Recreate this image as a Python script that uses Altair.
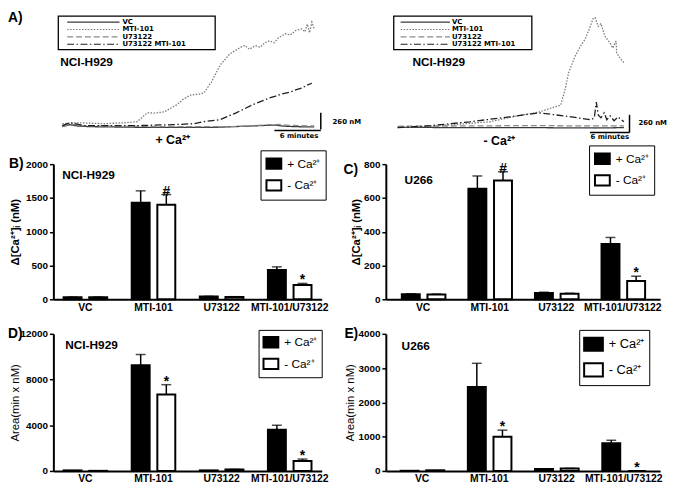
import altair as alt
import pandas as pd

FONT = "Liberation Sans"

# ---------------- Panel A: calcium traces ----------------
series = ["VC", "MTI-101", "U73122", "U73122 MTI-101"]
line_colors = ["#3a3a3a", "#7a7a7a", "#8a8a8a", "#1e1e1e"]
line_dashes = [[1, 0], [1.5, 1.5], [6, 3], [7, 2.5, 1.5, 2.5]]

# + Ca2+ (time in minutes, delta [Ca2+] in nM)
p_vc_t = [0, 1.0, 2.0, 3.5, 10, 20, 26.5, 27.5, 28.5, 30, 32.6]
p_vc_v = [0, 30, 10, 0, -10, -10, 20, 25, 10, 0, -5]
p_mti_t = [0, 2, 5.5, 8, 9.7, 11.0, 12.0, 13.2, 14.8, 15.6, 16.6, 17.4, 18.3, 19.3, 20.4,
           21.7, 23.0, 23.6, 24.2, 25.0, 25.6, 26.2, 26.8, 27.4, 28.0, 28.9, 29.5, 30.2,
           31.0, 31.4, 31.7, 32.0, 32.3, 32.6]
p_mti_v = [46, 60, 46, 60, 77, 214, 210, 230, 337, 420, 490, 500, 520, 690, 950,
           1130, 1225, 1260, 1200, 1255, 1230, 1300, 1330, 1300, 1380, 1440, 1420, 1490,
           1515, 1470, 1590, 1455, 1620, 1515]
p_u7_t = [0, 1.2, 2.5, 8, 15, 22, 27, 28, 29.5, 32.6]
p_u7_v = [10, 40, 15, 5, 0, 0, 30, 35, 20, 10]
p_u7mti_t = [0, 1.0, 2.9, 9.3, 14.4, 17.0, 18.3, 20.4, 22.5, 24.6, 26.8, 27.5, 28.2, 28.9,
             29.6, 30.3, 31.0, 31.6, 32.3]
p_u7mti_v = [15, 61, 15, 15, 31, 46, 77, 107, 214, 337, 444, 470, 500, 520,
             540, 575, 597, 640, 673]

# - Ca2+
m_vc_t = [0, 10, 20, 30, 34.4]
m_vc_v = [5, 0, 0, -5, 0]
m_mti_t = [0, 5, 10, 14.0, 18.9, 21.5, 24.8, 25.5, 26.0, 27.0, 27.8, 28.5, 29.3, 29.7, 30.0,
           30.5, 30.9, 31.5, 32.3, 32.7, 33.2, 33.3, 33.8, 34.4]
m_mti_v = [0, 20, 55, 86, 187, 230, 331, 576, 806, 1051, 1195, 1296, 1483, 1598, 1612,
           1483, 1526, 1339, 1238, 1166, 1267, 1094, 1022, 950]
m_u7_t = [0, 10, 20, 30, 34.4]
m_u7_v = [20, 25, 30, 25, 25]
m_u7mti_t = [0, 5, 11, 17, 21.5, 25.2, 29.4, 29.9, 30.2, 30.5, 30.9, 31.4, 31.8, 32.3, 32.9,
             33.5, 34.4]
m_u7mti_v = [0, 29, 86, 158, 216, 173, 115, 144, 374, 187, 144, 216, 115, 173, 101,
             158, 86]

# ---------------- Bar panels ----------------
cats = ["VC", "MTI-101", "U73122", "MTI-101/U73122"]
conds = ["+ Ca²⁺", "-  Ca²⁺"]

b_plus = [30, 1430, 40, 435]
b_plus_err = [4, 175, 4, 45]
b_minus = [30, 1400, 35, 210]
b_minus_err = [4, 150, 4, 25]
b_sig = ["", "#", "", "*"]

c_plus = [30, 655, 38, 328]
c_plus_err = [3, 75, 4, 38]
c_minus = [28, 703, 33, 108]
c_minus_err = [3, 52, 3, 28]
c_sig = ["", "#", "", "*"]

d_plus = [50, 9250, 50, 3600]
d_plus_err = [0, 940, 0, 400]
d_minus = [10, 6700, 120, 870]
d_minus_err = [0, 850, 20, 170]
d_sig = ["", "*", "", "*"]

e_plus = [5, 2450, 60, 810]
e_plus_err = [0, 690, 5, 85]
e_minus = [20, 1000, 70, 0]
e_minus_err = [0, 190, 5, 0]
e_sig = ["", "*", "", "*"]


def trace_df(ts, vs):
    rows = []
    for s, t, v in zip(series, ts, vs):
        for ti, vi in zip(t, v):
            rows.append({"series": s, "t": ti, "v": vi})
    return pd.DataFrame(rows)


def trace_panel(df, width, height, xdom, ydom, bar_t, bar_v, bar_h, cond_text, cond_xy,
                cell_xy, leg_box, leg_x, leg_rows, leg_font, min_xy, nm_xy, panel_label=None):
    base = alt.Chart(df)
    lines = base.mark_line(strokeWidth=1.3).encode(
        x=alt.X("t:Q", scale=alt.Scale(domain=xdom, nice=False, zero=False), axis=None),
        y=alt.Y("v:Q", scale=alt.Scale(domain=ydom, nice=False, zero=False), axis=None),
        color=alt.Color("series:N", scale=alt.Scale(domain=series, range=line_colors), legend=None),
        strokeDash=alt.StrokeDash("series:N", scale=alt.Scale(domain=series, range=line_dashes), legend=None),
        order=alt.Order("t:Q"),
    )
    sb = pd.DataFrame({"t1": [bar_t[1], bar_t[0]], "t2": [bar_t[1], bar_t[1]],
                       "v1": [bar_v[0], bar_h], "v2": [bar_v[1], bar_h]})
    scalebar = alt.Chart(sb).mark_rule(color="black", strokeWidth=1.5).encode(
        x=alt.X("t1:Q", axis=None), x2="t2:Q", y=alt.Y("v1:Q", axis=None), y2="v2:Q")
    layers = [lines, scalebar]
    one = pd.DataFrame({"k": [0]})
    # legend box
    layers.append(alt.Chart(one).mark_rect(fillOpacity=0, stroke="black", strokeWidth=1.3).encode(
        x=alt.value(leg_box[0]), x2=alt.value(leg_box[1]), y=alt.value(leg_box[2]), y2=alt.value(leg_box[3])))
    for i, s in enumerate(series):
        layers.append(alt.Chart(one).mark_rule(color=line_colors[i], strokeDash=line_dashes[i],
                                               strokeWidth=1.2).encode(
            x=alt.value(leg_x[0]), x2=alt.value(leg_x[1]), y=alt.value(leg_rows[i])))
        layers.append(alt.Chart(one).mark_text(text=s, font="DejaVu Sans", fontWeight="bold",
                                               fontSize=leg_font, align="left", baseline="middle").encode(
            x=alt.value(leg_x[2]), y=alt.value(leg_rows[i])))
    layers.append(alt.Chart(one).mark_text(text="NCI-H929", font=FONT, fontWeight="bold", fontSize=12,
                                           align="left", baseline="middle").encode(
        x=alt.value(cell_xy[0]), y=alt.value(cell_xy[1])))
    layers.append(alt.Chart(one).mark_text(text=cond_text, font=FONT, fontWeight="bold", fontSize=12.5,
                                           align="center", baseline="middle").encode(
        x=alt.value(cond_xy[0]), y=alt.value(cond_xy[1])))
    layers.append(alt.Chart(one).mark_text(text="6 minutes", font="DejaVu Sans", fontWeight="bold",
                                           fontSize=7, align="center", baseline="middle").encode(
        x=alt.value(min_xy[0]), y=alt.value(min_xy[1])))
    layers.append(alt.Chart(one).mark_text(text="260 nM", font="DejaVu Sans", fontWeight="bold",
                                           fontSize=7, align="left", baseline="middle").encode(
        x=alt.value(nm_xy[0]), y=alt.value(nm_xy[1])))
    if panel_label:
        layers.append(alt.Chart(one).mark_text(text=panel_label, font=FONT, fontWeight="bold", fontSize=14,
                                               align="left", baseline="alphabetic").encode(
            x=alt.value(-46), y=alt.value(10)))
    return alt.layer(*layers).properties(width=width, height=height)


def bar_panel(plus, plus_err, minus, minus_err, sig, ymax, ystep, ytitle, ytitle_bold, title_x,
              cell, cell_xy, label, label_xy, width, height, po, leg_xy, leg_size, leg_font, leg_pad):
    rows = []
    for i, c in enumerate(cats):
        rows.append({"cat": c, "cond": conds[0], "val": plus[i], "err": plus_err[i],
                     "top": plus[i] + plus_err[i], "sig": ""})
        rows.append({"cat": c, "cond": conds[1], "val": minus[i], "err": minus_err[i],
                     "top": minus[i] + minus_err[i], "sig": sig[i]})
    df = pd.DataFrame(rows)
    x = alt.X("cat:N", sort=cats, scale=alt.Scale(domain=cats, paddingInner=0.36, paddingOuter=po),
              axis=alt.Axis(title=None, labelAngle=0, ticks=False, domainWidth=2, domainColor="black",
                            labelFont=FONT, labelFontWeight="bold", labelFontSize=10.5,
                            labelColor="black", labelPadding=3))
    xo = alt.XOffset("cond:N", sort=conds, scale=alt.Scale(domain=conds, paddingInner=0.3, paddingOuter=0))
    yax = alt.Axis(title=ytitle, values=list(range(0, ymax + 1, ystep)), format="d", labelOverlap=False,
                   grid=False, tickSize=4,
                   tickWidth=1.5, tickColor="black", domainWidth=2, domainColor="black",
                   labelFont=FONT, labelFontWeight="bold", labelFontSize=10, labelColor="black",
                   labelPadding=2, titleFont=FONT, titleFontSize=11.5,
                   titleFontWeight="bold" if ytitle_bold else "normal", titleColor="black",
                   titleX=title_x, titleY=height / 2, titleBaseline="middle", titleAlign="center",
                   titleAngle=270)
    ysc = alt.Scale(domain=[0, ymax], nice=False)

    def Y(field):
        return alt.Y(field, scale=ysc, axis=yax)

    base = alt.Chart(df)
    bars = base.mark_bar(stroke="black", strokeWidth=2).encode(
        x=x, xOffset=xo, y=Y("val:Q"),
        fill=alt.Fill("cond:N", scale=alt.Scale(domain=conds, range=["black", "white"]),
                      legend=alt.Legend(title=None, orient="none", legendX=leg_xy[0], legendY=leg_xy[1],
                                        symbolType="M-1,-0.7L1,-0.7L1,0.7L-1,0.7Z", symbolSize=leg_size,
                                        symbolStrokeColor="black", symbolStrokeWidth=2,
                                        labelFont=FONT, labelFontSize=leg_font, labelColor="black",
                                        labelOffset=5, strokeColor="black", padding=leg_pad,
                                        rowPadding=3)),
    )
    edf = df[df["err"] > 0]
    err = alt.Chart(edf).mark_rule(color="black", strokeWidth=1.5).encode(
        x=x, xOffset=xo, y=Y("val:Q"), y2="top:Q")
    cap = alt.Chart(edf).mark_tick(color="black", thickness=1.5, size=10).encode(
        x=x, xOffset=xo, y=Y("top:Q"))
    sdf = df[df["sig"] != ""]
    sigt = alt.Chart(sdf).mark_text(font=FONT, fontWeight="bold", fontSize=14, baseline="alphabetic",
                                    dy=1, color="black").encode(
        x=x, xOffset=xo, y=Y("top:Q"), text="sig:N")
    one = pd.DataFrame({"k": [0]})
    celltext = alt.Chart(one).mark_text(text=cell, font=FONT, fontWeight="bold", fontSize=12,
                                        align="left", baseline="middle").encode(
        x=alt.value(cell_xy[0]), y=alt.value(cell_xy[1]))
    lab = alt.Chart(one).mark_text(text=label, font=FONT, fontWeight="bold", fontSize=14,
                                   align="left", baseline="middle").encode(
        x=alt.value(label_xy[0]), y=alt.value(label_xy[1]))
    return alt.layer(bars, err, cap, sigt, celltext, lab).properties(width=width, height=height)


ca_title = "Δ[Ca²⁺]ᵢ (nM)"
area_title = "Area(min x nM)"

A_left = trace_panel(
    trace_df([p_vc_t, p_mti_t, p_u7_t, p_u7mti_t], [p_vc_v, p_mti_v, p_u7_v, p_u7mti_v]),
    272, 119, [-1.149, 33.57], [-45.9, 1773.9], [27.45, 33.45], [214, -46], -61,
    "+ Ca²⁺", (121, 130), (7, 51), (5, 164, 4, 38), (14, 67, 70), [10, 17.5, 25, 32.5], 7,
    (249, 126), (283, 111), panel_label="A)")
A_right = trace_panel(
    trace_df([m_vc_t, m_mti_t, m_u7_t, m_u7mti_t], [m_vc_v, m_mti_v, m_u7_v, m_u7mti_v]),
    278, 119, [-1.8, 39.9], [-28.9, 1690], [29.25, 35.25], [188, -72], -72,
    "- Ca²⁺", (115, 131), (27, 51), (8, 148, 4, 38), (15, 65, 67), [10, 17.5, 25, 32.5], 7,
    (227, 127), (256, 112))

B = bar_panel(b_plus, b_plus_err, b_minus, b_minus_err, b_sig, 2000, 500, ca_title, True, -38,
              "NCI-H929", (9, 11), "B)", (-45, 0), 272, 137, 0.15, (210, -14), 225, 12, 5)
C = bar_panel(c_plus, c_plus_err, c_minus, c_minus_err, c_sig, 800, 200, ca_title, True, -30,
              "U266", (19, 16), "C)", (-43, 6), 278, 137, 0.24, (206, -19), 225, 12, 5)
D = bar_panel(d_plus, d_plus_err, d_minus, d_minus_err, d_sig, 12000, 4000, area_title, False, -38,
              "NCI-H929", (12, 11), "D)", (-46, 0), 272, 139, 0.15, (208, -4), 225, 12, 4)
E = bar_panel(e_plus, e_plus_err, e_minus, e_minus_err, e_sig, 4000, 1000, area_title, False, -36,
              "U266", (16, 12), "E)", (-42, 0), 278, 139, 0.22, (196, -4), 361, 13, 4)

chart = alt.concat(A_left, A_right, B, C, D, E, columns=2,
                   spacing={"row": 35, "column": 65}, bounds="flush", align="each").resolve_scale(
    fill="independent").resolve_legend(fill="independent").properties(
    padding=0, background="white").configure_view(stroke=None)

chart.save("out.html", embed_options={"renderer": "svg", "actions": False})
